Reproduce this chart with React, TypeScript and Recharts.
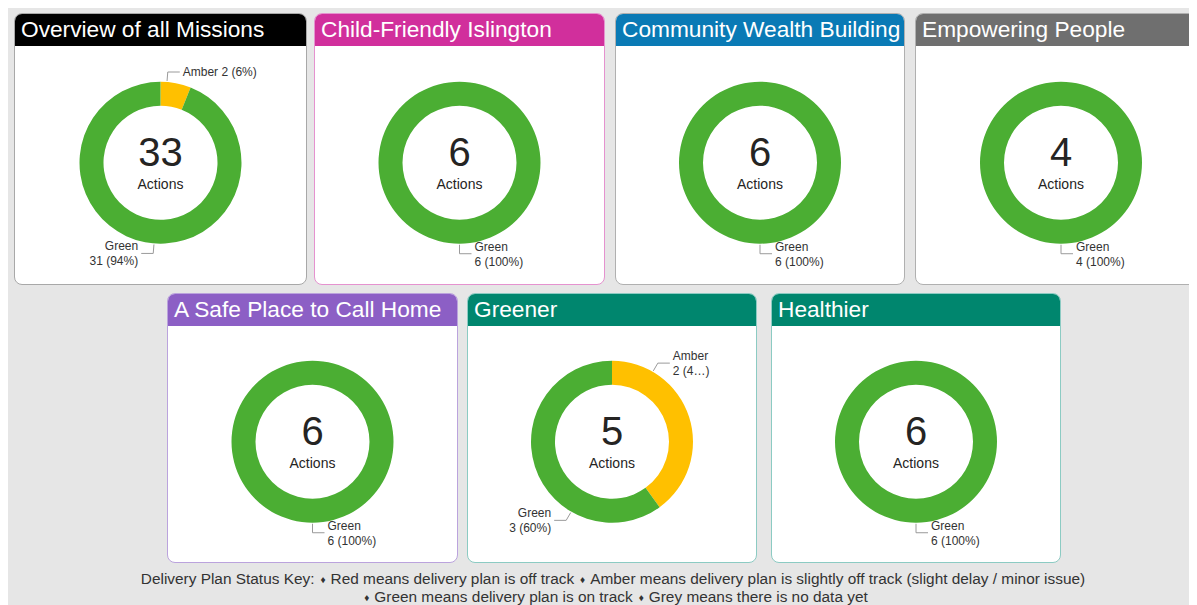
import React from 'react';
import { PieChart, Pie, Cell, Label } from 'recharts';

// mission names, in the order the cards appear
const missions = [
    'Overview of all Missions',
    'Child-Friendly Islington',
    'Community Wealth Building',
    'Empowering People',
    'A Safe Place to Call Home',
    'Greener',
    'Healthier',
];
const amberCounts = [2, 0, 0, 0, 0, 2, 0];
const greenCounts = [31, 6, 6, 4, 6, 3, 6];
const statusNames = ['Amber', 'Green'];

const statusColors: Record<string, string> = { Amber: '#FFC000', Green: '#4BAE33' };

// card layout (relative to the grey panel)
const cards = [
    { left: 6, top: 5, width: 293, height: 272, head: '#000000', border: '#a8a8a8' },
    { left: 306, top: 5, width: 291, height: 272, head: '#D12F9C', border: '#E592CF' },
    { left: 607, top: 5, width: 290, height: 272, head: '#0A7AB5', border: '#b0b0b0' },
    { left: 907, top: 5, width: 292, height: 272, head: '#6F6F6F', border: '#b0b0b0' },
    { left: 159, top: 285, width: 291, height: 270, head: '#8C5FC5', border: '#BBA3DD' },
    { left: 459, top: 285, width: 290, height: 270, head: '#00866E', border: '#8CCBC3' },
    { left: 763, top: 285, width: 290, height: 270, head: '#00866E', border: '#8CCBC3' },
];

const FONT = '"Liberation Sans", Arial, sans-serif';
const HEAD_H = 32;
const CY_PCT = 0.49;
const RADIAN = Math.PI / 180;

const makeLabel = (chartWidth: number) => (props: any) => {
    const { cx, cy, midAngle, outerRadius, percent, name, value } = props;
    // pull label angle toward the vertical, similar to the original dashboard
    const vert = Math.sin(midAngle * RADIAN) >= 0 ? 90 : -90;
    const ang = (vert + (midAngle - vert) * 0.42) * RADIAN;
    const cos = Math.cos(ang);
    const sin = Math.sin(ang);
    const sx = cx + (outerRadius + 1) * cos;
    const sy = cy - (outerRadius + 1) * sin;
    const ex = cx + (outerRadius + 10) * cos;
    const ey = cy - (outerRadius + 10) * sin;
    const dir = cos >= -1e-6 ? 1 : -1;
    const hx = ex + dir * 12;
    const tx = hx + dir * 3;
    const pct = `${value} (${Math.round(percent * 100)}%)`;
    const anchor = dir > 0 ? 'start' : 'end';

    let lines: string[];
    if (percent < 0.1) {
        lines = [`${name} ${pct}`];
    } else {
        let second = pct;
        const limit = chartWidth - 48;
        if (dir > 0 && tx + second.length * 6.2 > limit) {
            while (second.length > 1 && tx + (second.length + 1) * 6.2 > limit) second = second.slice(0, -1);
            second = second + '…)';
        }
        lines = [name, second];
    }

    return (
        <g>
            <polyline points={`${sx},${sy} ${ex},${ey} ${hx},${ey}`} fill="none" stroke="#9a9a9a" strokeWidth={1} />
            {lines.length === 1 ? (
                <text x={tx} y={ey} textAnchor={anchor} dominantBaseline="central" fontSize={12} fill="#333" fontFamily={FONT}>
                    {lines[0]}
                </text>
            ) : (
                <text x={tx} y={ey} textAnchor={anchor} fontSize={12} fill="#333" fontFamily={FONT}>
                    <tspan x={tx} dy={-3}>{lines[0]}</tspan>
                    <tspan x={tx} dy={15}>{lines[1]}</tspan>
                </text>
            )}
        </g>
    );
};

const CenterLabel = ({ cx, cy, total }: { cx: number; cy: number; total: number }) => (
    <g>
        <text x={cx} y={cy - 11} textAnchor="middle" dominantBaseline="central" fontSize={40} fill="#252423" fontFamily={FONT}>
            {total}
        </text>
        <text x={cx} y={cy + 21} textAnchor="middle" dominantBaseline="central" fontSize={14} fill="#252423" fontFamily={FONT}>
            Actions
        </text>
    </g>
);

const MissionCard = ({ index }: { index: number }) => {
    const c = cards[index];
    const counts = [amberCounts[index], greenCounts[index]];
    const data = statusNames
        .map((name, i) => ({ name, value: counts[i] }))
        .filter(d => d.value > 0);
    const total = counts.reduce((a, b) => a + b, 0);
    const w = c.width - 2;
    const h = c.height - HEAD_H - 2;

    return (
        <div style={{
            position: 'absolute', left: c.left, top: c.top, width: c.width - 2, height: c.height - 2,
            background: '#fff', border: `1px solid ${c.border}`, borderRadius: 8, overflow: 'hidden',
        }}>
            <div style={{
                height: HEAD_H, background: c.head, color: '#fff', fontFamily: FONT, fontSize: 22.7,
                lineHeight: `${HEAD_H - 2}px`, paddingLeft: 6, whiteSpace: 'nowrap',
            }}>
                {missions[index]}
            </div>
            <PieChart width={w} height={h}>
                <Pie
                    data={data}
                    dataKey="value"
                    nameKey="name"
                    cx="50%"
                    cy={`${CY_PCT * 100}%`}
                    innerRadius={57}
                    outerRadius={81}
                    startAngle={90}
                    endAngle={-270}
                    stroke="none"
                    labelLine={false}
                    label={makeLabel(w)}
                    isAnimationActive={false}
                >
                    {data.map((d, i) => (
                        <Cell key={`cell-${i}`} fill={statusColors[d.name]} />
                    ))}
                    <Label position="center" content={() => <CenterLabel cx={w / 2} cy={h * CY_PCT} total={total} />} />
                </Pie>
            </PieChart>
        </div>
    );
};

const Diamond = () => <span style={{ fontSize: 10, margin: '0 5px 0 6px', position: 'relative', top: -1 }}>♦</span>;

export default function App() {
    return (
        <div style={{ position: 'relative', width: 1189, height: 597, background: '#e6e6e6', overflow: 'hidden' }}>
            {missions.map((_, i) => (
                <MissionCard key={i} index={i} />
            ))}
            <div style={{
                position: 'absolute', left: 0, top: 563, width: 1210, textAlign: 'center',
                fontFamily: FONT, fontSize: 15.4, color: '#333', lineHeight: '16px',
            }}>
                <div>Delivery Plan Status Key:<Diamond />Red means delivery plan is off track<Diamond />Amber means delivery plan is slightly off track (slight delay / minor issue)</div>
                <div><Diamond />Green means delivery plan is on track<Diamond />Grey means there is no data yet</div>
            </div>
        </div>
    );
}
